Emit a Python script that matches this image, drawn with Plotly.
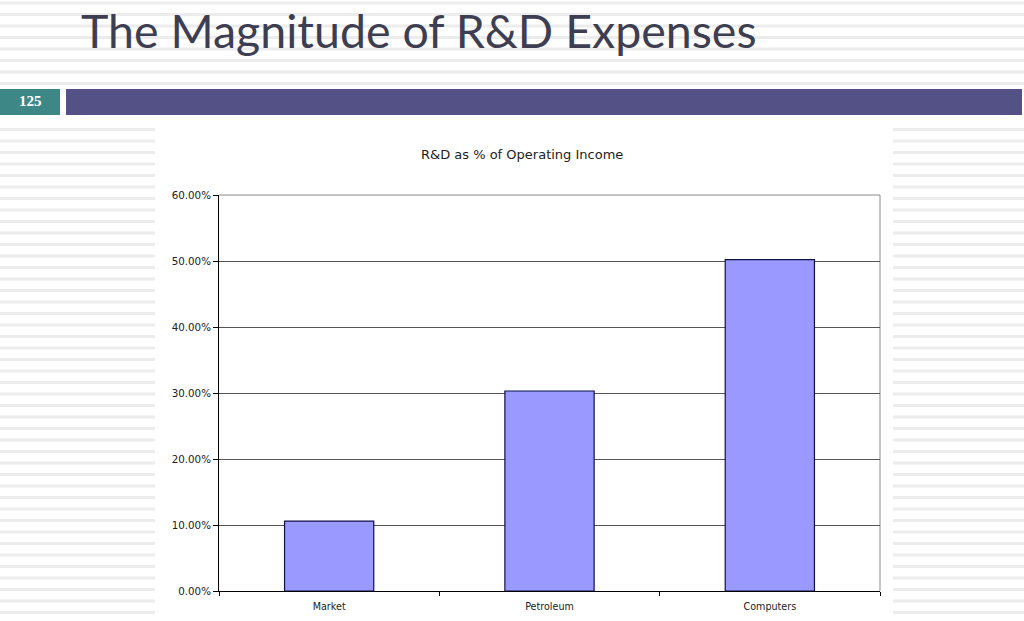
import plotly.graph_objects as go

W, H = 1024, 621

categories = ["Market", "Petroleum", "Computers"]
values = [0.106, 0.303, 0.502]
y_ticks = [0.0, 0.1, 0.2, 0.3, 0.4, 0.5, 0.6]
y_tick_labels = ["0.00%", "10.00%", "20.00%", "30.00%", "40.00%", "50.00%", "60.00%"]
slide_title = "The Magnitude of R&D Expenses"
chart_title = "R&D as % of Operating Income"
slide_number = "125"


def px(x):
    return x / W


def py(y):
    return 1 - y / H


# plot area in pixels
PL, PR, PT, PB = 219, 880, 195, 591

fig = go.Figure()
fig.add_trace(go.Bar(
    x=categories, y=values,
    marker=dict(color="#9999ff", line=dict(color="#10104a", width=1.2)),
    width=0.405,
    hoverinfo="skip",
))

shapes = []
# striped slide background
stripe_color = "#ececec"
y0 = 1.5
k = 0
while True:
    ys = y0 + 11.5 * k
    if ys > H:
        break
    if ys + 3 < 88:
        shapes.append(dict(type="rect", xref="paper", yref="paper", layer="below",
                           x0=0, x1=1, y0=py(ys), y1=py(ys + 3),
                           fillcolor=stripe_color, line=dict(width=0)))
    elif ys > 118:
        shapes.append(dict(type="rect", xref="paper", yref="paper", layer="below",
                           x0=0, x1=px(155), y0=py(ys), y1=py(ys + 3),
                           fillcolor=stripe_color, line=dict(width=0)))
        shapes.append(dict(type="rect", xref="paper", yref="paper", layer="below",
                           x0=px(893), x1=1, y0=py(ys), y1=py(ys + 3),
                           fillcolor=stripe_color, line=dict(width=0)))
    k += 1

# slide number box and header bar
shapes.append(dict(type="rect", xref="paper", yref="paper", layer="below",
                   x0=px(0), x1=px(60), y0=py(89), y1=py(115),
                   fillcolor="#3d8787", line=dict(width=0)))
shapes.append(dict(type="rect", xref="paper", yref="paper", layer="below",
                   x0=px(66), x1=px(1022), y0=py(89), y1=py(115),
                   fillcolor="#535186", line=dict(width=0)))
# right and top border of plot area
shapes.append(dict(type="line", xref="paper", yref="paper", layer="below",
                   x0=px(PR), x1=px(PR), y0=py(PT), y1=py(PB),
                   line=dict(color="#8a8a8a", width=1)))
shapes.append(dict(type="line", xref="paper", yref="paper", layer="below",
                   x0=px(PL), x1=px(PR), y0=py(PT), y1=py(PT),
                   line=dict(color="#8a8a8a", width=1)))

fig.update_layout(
    shapes=shapes,
    width=W, height=H,
    autosize=False,
    margin=dict(l=0, r=0, t=0, b=0, pad=0, autoexpand=False),
    paper_bgcolor="white",
    plot_bgcolor="rgba(0,0,0,0)",
    showlegend=False,
    xaxis=dict(
        domain=[px(PL), px(PR)],
        automargin=False,
        showline=True, linecolor="black", linewidth=1,
        ticks="outside", tickson="boundaries", ticklen=4, tickcolor="black",
        ticklabelstandoff=6,
        tickfont=dict(family="DejaVu Sans", size=9.6, color="#222"),
        showgrid=False, fixedrange=True,
    ),
    yaxis=dict(
        domain=[py(PB), py(PT)],
        automargin=False,
        range=[0, 0.6],
        tickvals=y_ticks, ticktext=y_tick_labels,
        showline=True, linecolor="black", linewidth=1,
        ticks="outside", ticklen=5, tickcolor="black",
        tickfont=dict(family="DejaVu Sans", size=10.3, color="#222"),
        showgrid=True, gridcolor="#555555", gridwidth=1,
        zeroline=False, fixedrange=True,
    ),
    annotations=[
        dict(text=slide_title, xref="paper", yref="paper",
             x=px(79), y=py(30), xanchor="left", yanchor="middle",
             showarrow=False,
             font=dict(family="Lato", size=46.5, color="#3e3e52")),
        dict(text="<b>" + slide_number + "</b>", xref="paper", yref="paper",
             x=px(30), y=py(101), xanchor="center", yanchor="middle",
             showarrow=False,
             font=dict(family="Liberation Serif", size=15, color="white")),
        dict(text=chart_title, xref="paper", yref="paper",
             x=px(522), y=py(154), xanchor="center", yanchor="middle",
             showarrow=False,
             font=dict(family="DejaVu Sans", size=13, color="#222")),
    ],
)

fig.write_html("out.html")
